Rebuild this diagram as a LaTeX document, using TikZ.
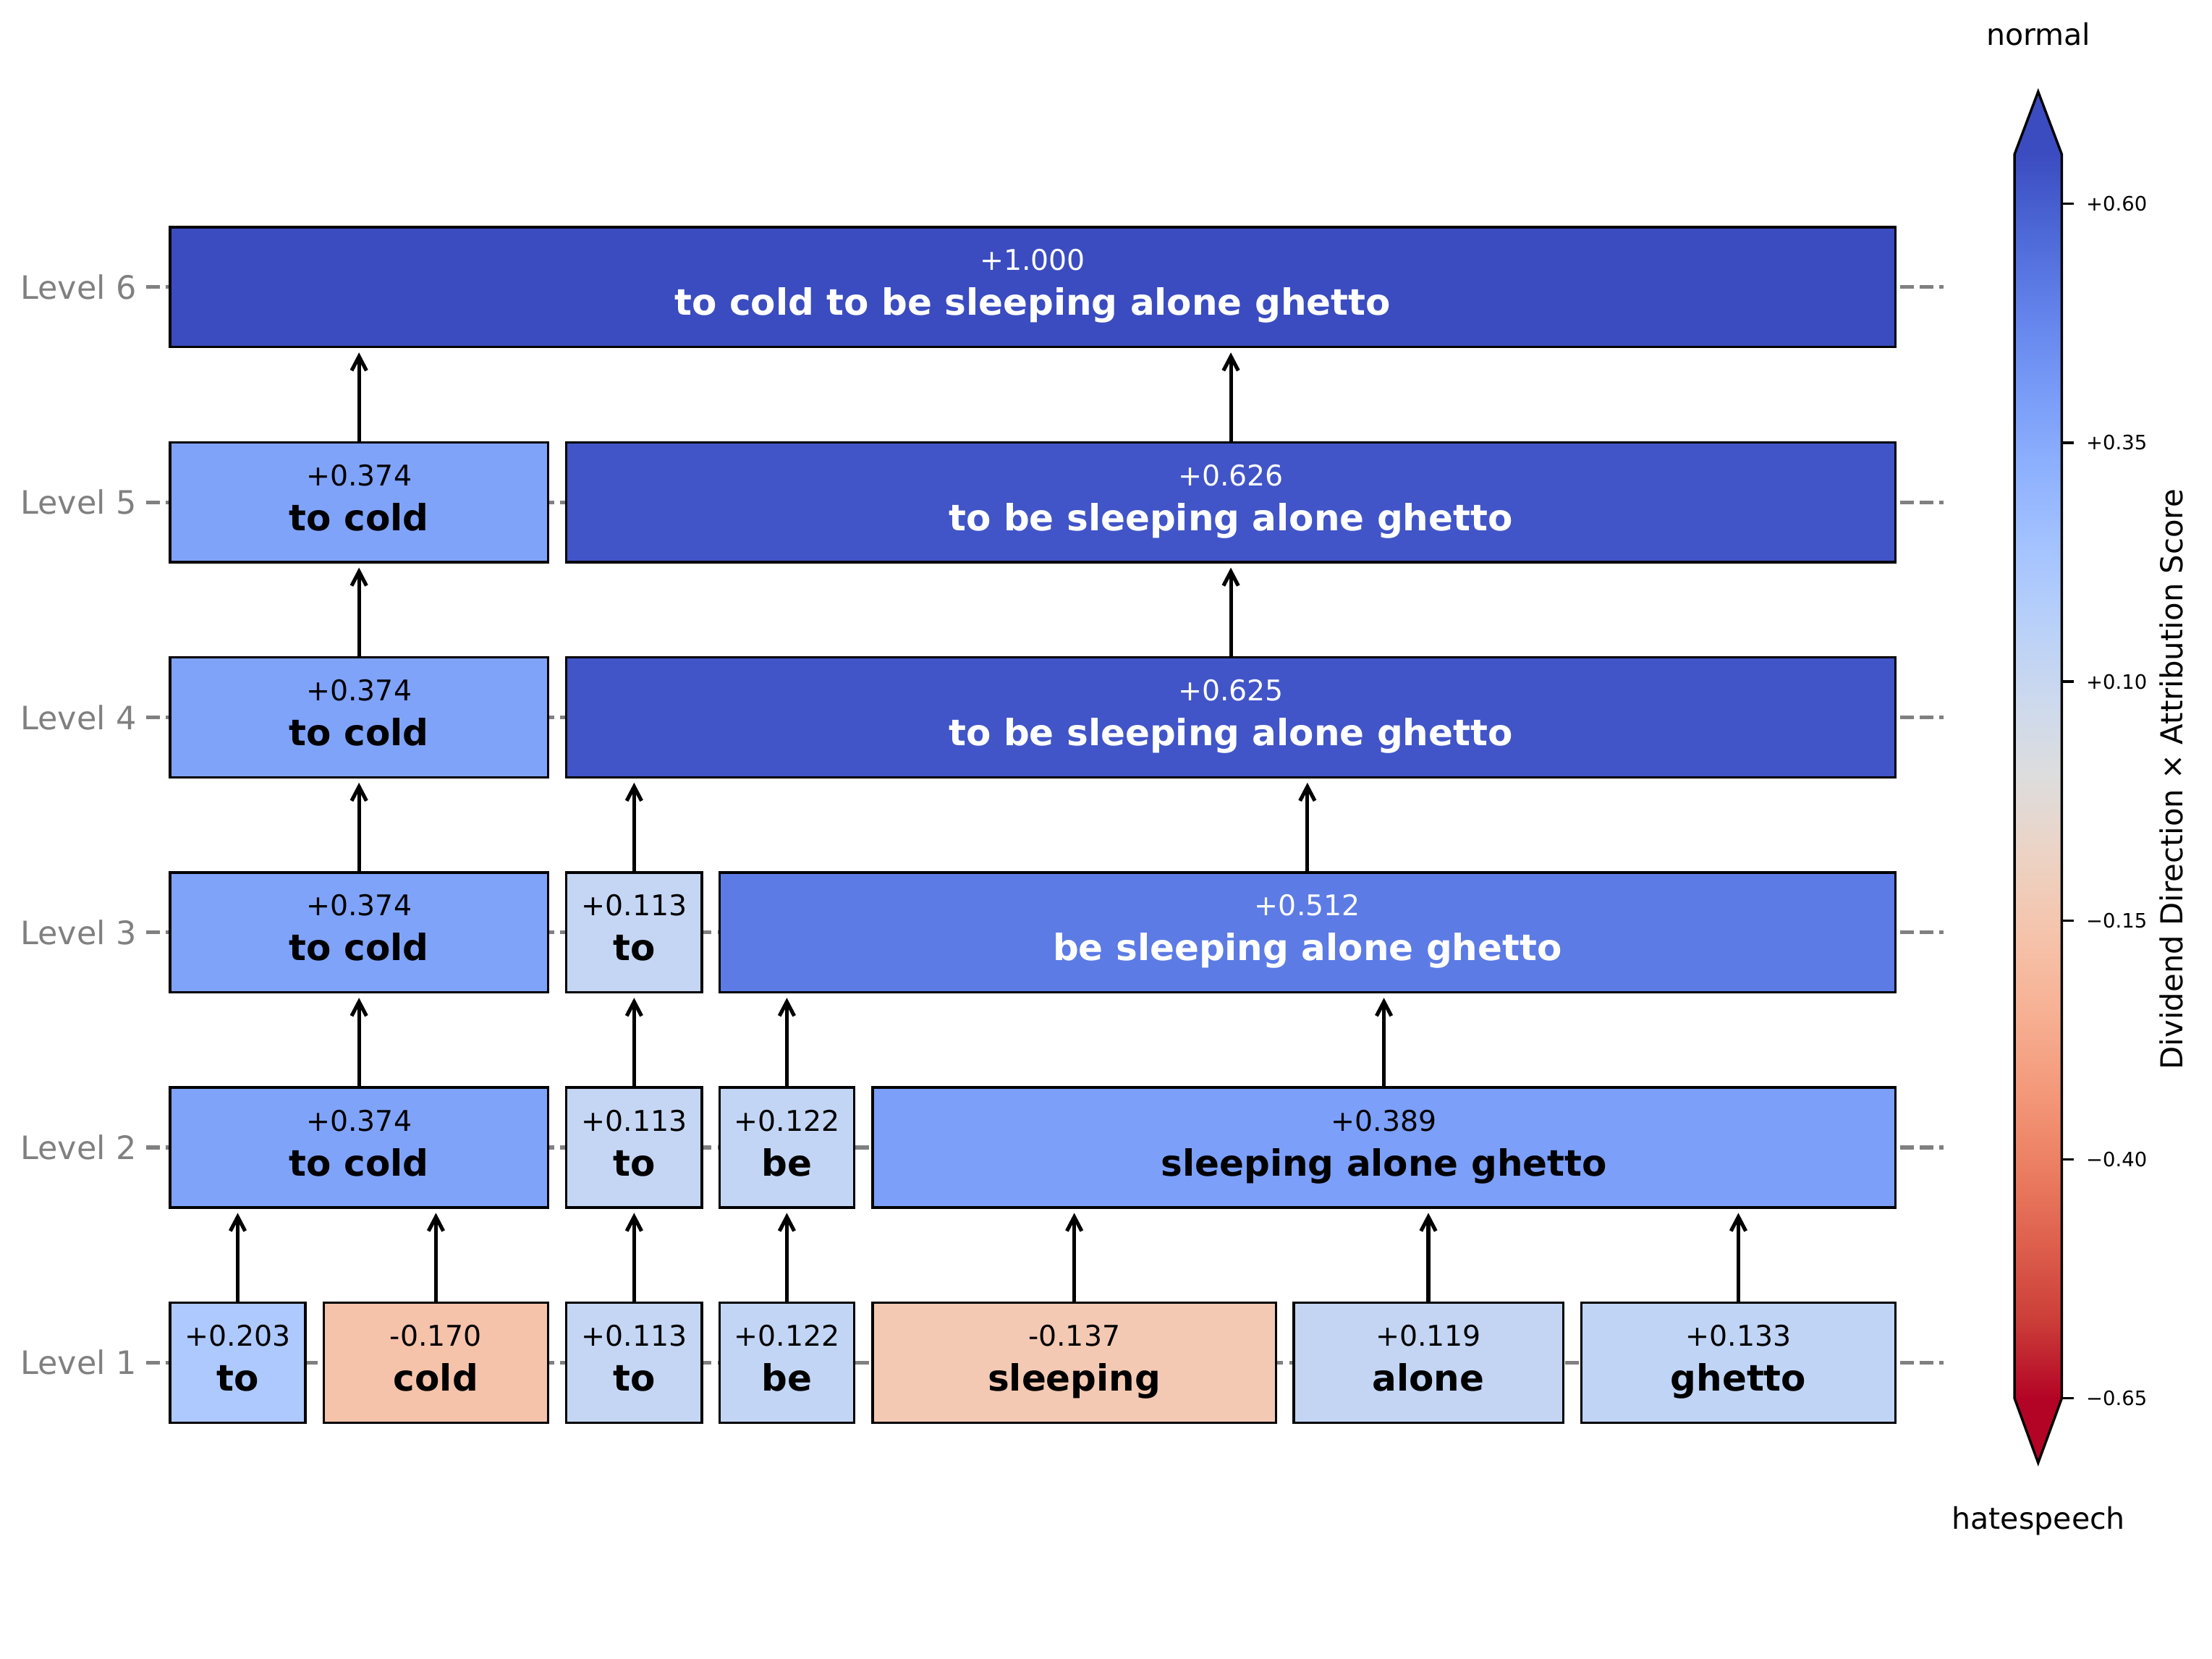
\documentclass[tikz,border=0pt]{standalone}
\usepackage{fontspec}
\setmainfont{DejaVu Sans}
\usepackage{tikz}
\usepackage{xcolor}
\usetikzlibrary{positioning,arrows.meta}

\definecolor{c1000}{RGB}{59,76,192}
\definecolor{c626}{RGB}{65,85,200}
\definecolor{c512}{RGB}{92,123,229}
\definecolor{c389}{RGB}{124,159,249}
\definecolor{c374}{RGB}{128,163,250}
\definecolor{c203}{RGB}{174,201,253}
\definecolor{c133}{RGB}{192,212,245}
\definecolor{c122}{RGB}{194,213,244}
\definecolor{c119}{RGB}{195,213,243}
\definecolor{c113}{RGB}{196,214,243}
\definecolor{cm137}{RGB}{243,201,179}
\definecolor{cm170}{RGB}{245,194,170}
\definecolor{cwred}{RGB}{180,4,38}

% coolwarm stops, red (bottom) to blue (top)
\definecolor{cw0}{RGB}{180,4,38}
\definecolor{cw1}{RGB}{203,62,56}
\definecolor{cw2}{RGB}{222,96,77}
\definecolor{cw3}{RGB}{236,127,99}
\definecolor{cw4}{RGB}{244,154,123}
\definecolor{cw5}{RGB}{247,177,148}
\definecolor{cw6}{RGB}{245,196,172}
\definecolor{cw7}{RGB}{236,211,197}
\definecolor{cw8}{RGB}{221,221,221}
\definecolor{cw9}{RGB}{204,217,238}
\definecolor{cw10}{RGB}{184,208,249}
\definecolor{cw11}{RGB}{163,194,255}
\definecolor{cw12}{RGB}{141,176,254}
\definecolor{cw13}{RGB}{119,154,247}
\definecolor{cw14}{RGB}{98,130,234}
\definecolor{cw15}{RGB}{77,104,215}
\definecolor{cw16}{RGB}{59,76,192}

\pgfdeclareverticalshading{coolwarmbar}{100bp}{color(0bp)=(cw0); color(25bp)=(cw0);
  color(28.125bp)=(cw1); color(31.25bp)=(cw2); color(34.375bp)=(cw3);
  color(37.5bp)=(cw4); color(40.625bp)=(cw5); color(43.75bp)=(cw6);
  color(46.875bp)=(cw7); color(50bp)=(cw8); color(53.125bp)=(cw9);
  color(56.25bp)=(cw10); color(59.375bp)=(cw11); color(62.5bp)=(cw12);
  color(65.625bp)=(cw13); color(68.75bp)=(cw14); color(71.875bp)=(cw15);
  color(75bp)=(cw16); color(100bp)=(cw16)}

\tikzset{
  cellbox/.style={draw=black, line width=1pt, minimum height=1.7cm, inner sep=0pt},
  valtext/.style={inner sep=0pt, anchor=base, font=\fontsize{11.5}{13}\selectfont},
  wordtext/.style={inner sep=0pt, anchor=base, font=\fontsize{14.6}{17}\selectfont\bfseries},
  lvl/.style={anchor=east, inner sep=0pt, text=gray, font=\fontsize{13}{15}\selectfont},
  guide/.style={draw=gray, line width=1.5pt, dash pattern=on 5.55pt off 2.4pt},
  up/.style={-{Straight Barb[length=2mm,width=2.1mm]}, line width=1.5pt, shorten >=0.06cm},
  cbtick/.style={anchor=west, inner sep=0pt, font=\fontsize{8}{10}\selectfont},
  cbtext/.style={inner sep=0pt, font=\fontsize{12}{14}\selectfont}
}

% name, centre, width, fill, text colour, value, word
\newcommand{\tokcell}[7]{%
  \node[cellbox, fill=#4, minimum width=#3cm] (#1) at #2 {};
  \node[valtext, text=#5] (#1v) at ([yshift=0.234cm]#1.center) {#6};
  \node[wordtext, text=#5] (#1w) at ([yshift=-0.4cm]#1.center) {#7};
}

\begin{document}
\begin{tikzpicture}%[scale=1]
\useasboundingbox (0,0) rectangle (31.36,-23.52);

% level guides
\foreach \i in {1,...,6} {
  \coordinate (gl\i) at (2.07,{-19.32+(\i-1)*3.05});
  \coordinate (gr\i) at (27.55,{-19.32+(\i-1)*3.05});
  \draw[guide] (gl\i) -- (gr\i);
  \node[lvl] (lev\i) at ([xshift=-0.13cm]gl\i) {Level \i};
}

% level 1
\tokcell{l1a}{(3.37,-19.32)}{1.92}{c203}{black}{+0.203}{to}
\tokcell{l1b}{(6.18,-19.32)}{3.18}{cm170}{black}{-0.170}{cold}
\tokcell{l1c}{(8.99,-19.32)}{1.92}{c113}{black}{+0.113}{to}
\tokcell{l1d}{(11.155,-19.32)}{1.91}{c122}{black}{+0.122}{be}
\tokcell{l1e}{(15.23,-19.32)}{5.72}{cm137}{black}{-0.137}{sleeping}
\tokcell{l1f}{(20.25,-19.32)}{3.82}{c119}{black}{+0.119}{alone}
\tokcell{l1g}{(24.645,-19.32)}{4.45}{c133}{black}{+0.133}{ghetto}
% level 2
\tokcell{l2a}{(5.09,-16.27)}{5.36}{c374}{black}{+0.374}{to cold}
\tokcell{l2b}{(8.99,-16.27)}{1.92}{c113}{black}{+0.113}{to}
\tokcell{l2c}{(11.155,-16.27)}{1.91}{c122}{black}{+0.122}{be}
\tokcell{l2d}{(19.62,-16.27)}{14.5}{c389}{black}{+0.389}{sleeping alone ghetto}
% level 3
\tokcell{l3a}{(5.09,-13.22)}{5.36}{c374}{black}{+0.374}{to cold}
\tokcell{l3b}{(8.99,-13.22)}{1.92}{c113}{black}{+0.113}{to}
\tokcell{l3c}{(18.535,-13.22)}{16.67}{c512}{white}{+0.512}{be sleeping alone ghetto}
% level 4
\tokcell{l4a}{(5.09,-10.17)}{5.36}{c374}{black}{+0.374}{to cold}
\tokcell{l4b}{(17.45,-10.17)}{18.84}{c626}{white}{+0.625}{to be sleeping alone ghetto}
% level 5
\tokcell{l5a}{(5.09,-7.12)}{5.36}{c374}{black}{+0.374}{to cold}
\tokcell{l5b}{(17.45,-7.12)}{18.84}{c626}{white}{+0.626}{to be sleeping alone ghetto}
% level 6
\tokcell{l6a}{(14.64,-4.07)}{24.46}{c1000}{white}{+1.000}{to cold to be sleeping alone ghetto}

\draw[up] (l1a.north) -- (l1a.north |- l2a.south);
\draw[up] (l1b.north) -- (l1b.north |- l2a.south);
\draw[up] (l1c.north) -- (l1c.north |- l2b.south);
\draw[up] (l1d.north) -- (l1d.north |- l2c.south);
\draw[up] (l1e.north) -- (l1e.north |- l2d.south);
\draw[up] (l1f.north) -- (l1f.north |- l2d.south);
\draw[up] (l1g.north) -- (l1g.north |- l2d.south);
\draw[up] (l2a.north) -- (l2a.north |- l3a.south);
\draw[up] (l2b.north) -- (l2b.north |- l3b.south);
\draw[up] (l2c.north) -- (l2c.north |- l3c.south);
\draw[up] (l2d.north) -- (l2d.north |- l3c.south);
\draw[up] (l3a.north) -- (l3a.north |- l4a.south);
\draw[up] (l3b.north) -- (l3b.north |- l4b.south);
\draw[up] (l3c.north) -- (l3c.north |- l4b.south);
\draw[up] (l4a.north) -- (l4a.north |- l5a.south);
\draw[up] (l4b.north) -- (l4b.north |- l5b.south);
\draw[up] (l5a.north) -- (l5a.north |- l6a.south);
\draw[up] (l5b.north) -- (l5b.north |- l6a.south);

% colour bar
\shade[shading=coolwarmbar] (28.56,-19.826) rectangle (29.23,-2.188);
\fill[c1000] (28.56,-2.188) -- (28.895,-1.30) -- (29.23,-2.188) -- cycle;
\fill[cwred] (28.56,-19.826) -- (28.895,-20.74) -- (29.23,-19.826) -- cycle;
\draw[line width=1pt, line join=miter] (28.56,-19.826) -- (28.895,-20.74) -- (29.23,-19.826)
  -- (29.23,-2.188) -- (28.895,-1.30) -- (28.56,-2.188) -- cycle;
\foreach \y/\t [count=\k] in {-2.89/+0.60, -6.278/+0.35, -9.664/+0.10, -13.052/−0.15, -16.44/−0.40, -19.826/−0.65} {
  \draw[line width=1pt] (29.23,\y) -- (29.40,\y);
  \node[cbtick] (tk\k) at (29.57,\y) {\t};
}
\node[cbtext] (cbtop) at (28.9,-0.48) {normal};
\node[cbtext] (cbbot) at (28.9,-21.56) {hatespeech};
\node[cbtext, rotate=90] (cbtitle) at (30.78,-11.05) {\fontsize{12.2}{14}\selectfont Dividend Direction × Attribution Score};
\end{tikzpicture}
\end{document}
